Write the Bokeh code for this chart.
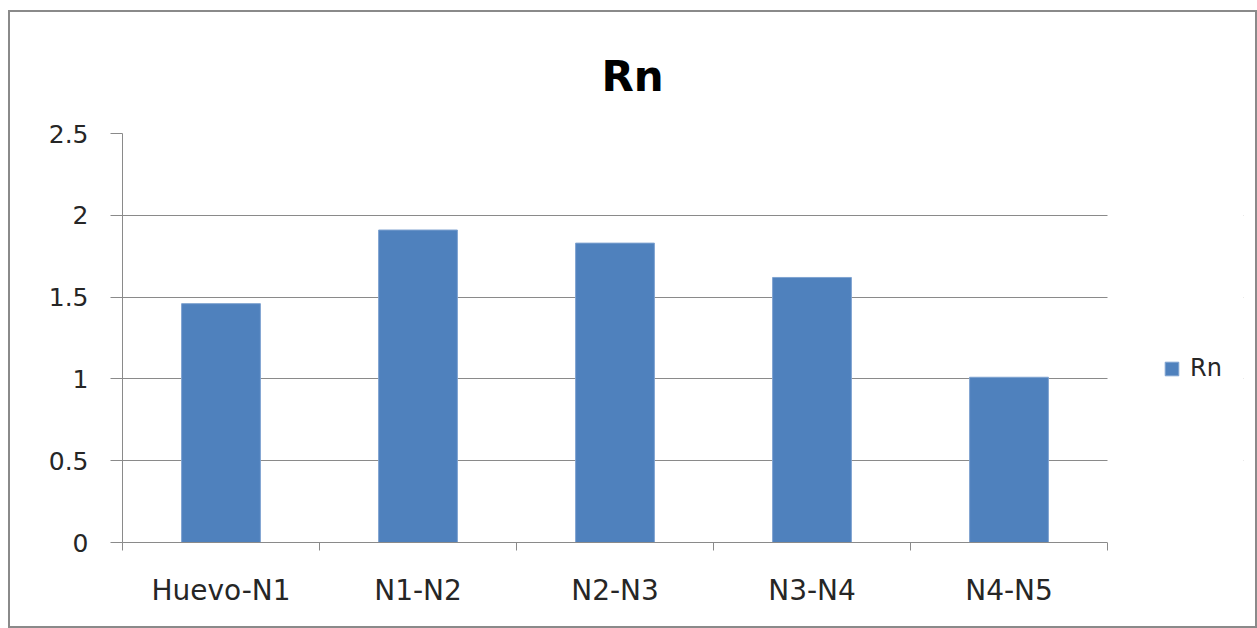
from bokeh.plotting import figure
from bokeh.models import (ColumnDataSource, FixedTicker, CustomJSTickFormatter,
                          Range1d, Legend, LegendItem, Title, BoxAnnotation)
from bokeh.embed import file_html
from bokeh.resources import INLINE

categories = ["Huevo-N1", "N1-N2", "N2-N3", "N3-N4", "N4-N5"]
rn_values = [1.46, 1.91, 1.83, 1.62, 1.01]
y_ticks = [0, 0.5, 1, 1.5, 2, 2.5]

FONT = "DejaVu Sans"
GRAY = "#8a8a8a"
TEXT = "#262626"
BAR = "#4F81BD"

n = len(categories)
x_pos = [i + 0.5 for i in range(n)]
src = ColumnDataSource(dict(x=x_pos, top=rn_values, cat=categories))

# plot area: the category part is 985px wide; the extra room on the right holds the legend
CAT_PX = 985
FRAME_W = 1121
x_end = n * FRAME_W / CAT_PX

p = figure(frame_width=FRAME_W, frame_height=409, output_backend="svg",
           toolbar_location=None,
           x_range=Range1d(0, x_end), y_range=Range1d(0, 2.5),
           min_border_left=112, min_border_right=12, min_border_top=121,
           min_border_bottom=84)
p.styles = {"border": f"2px solid {GRAY}", "margin-left": "8px", "margin-top": "10px"}
p.outline_line_color = None
p.background_fill_color = "white"
p.border_fill_color = "white"

r = p.vbar(x="x", top="top", width=0.4, source=src, fill_color=BAR,
           line_color="#7fa3d0", line_width=1)

# title
t = Title(text="Rn", align="left", vertical_align="top", text_font=FONT,
          text_font_size="42px", text_font_style="bold", text_color="black",
          standoff=62, offset=479)
p.add_layout(t, "above")

# y axis
p.yaxis.ticker = FixedTicker(ticks=y_ticks)
p.yaxis.formatter = CustomJSTickFormatter(code="return tick.toString();")
p.yaxis.axis_line_color = GRAY
p.yaxis.major_tick_line_color = GRAY
p.yaxis.major_tick_out = 12
p.yaxis.major_tick_in = 0
p.yaxis.minor_tick_line_color = None
p.yaxis.major_label_text_font = FONT
p.yaxis.major_label_text_font_size = "25px"
p.yaxis.major_label_text_color = TEXT
p.yaxis.major_label_standoff = 22

# x axis: ticks at category boundaries, labels at centers
p.xaxis.bounds = (0, n)
p.xaxis.ticker = FixedTicker(ticks=x_pos, minor_ticks=list(range(n + 1)))
p.xaxis.formatter = CustomJSTickFormatter(args=dict(labels=categories),
                                          code="return labels[Math.floor(tick)];")
p.xaxis.axis_line_color = GRAY
p.xaxis.major_tick_line_color = None
p.xaxis.major_tick_out = 0
p.xaxis.minor_tick_line_color = GRAY
p.xaxis.minor_tick_out = 8
p.xaxis.minor_tick_in = 0
p.xaxis.major_label_text_font = FONT
p.xaxis.major_label_text_font_size = "28px"
p.xaxis.major_label_text_color = TEXT
p.xaxis.major_label_standoff = 23

p.xgrid.grid_line_color = None
p.ygrid.grid_line_color = GRAY
p.ygrid.grid_line_width = 1

# blank the grid lines beyond the last category (legend area)
p.add_layout(BoxAnnotation(left=n, fill_color="white", fill_alpha=1.0,
                           line_color=None))

legend = Legend(items=[LegendItem(label="Rn", renderers=[r])],
                location=(1041, 160), padding=0, margin=0,
                border_line_color=None, background_fill_alpha=0,
                glyph_width=17, glyph_height=17, label_standoff=10,
                label_text_font=FONT, label_text_font_size="24px",
                label_text_color=TEXT)
p.add_layout(legend, "center")

open("out.html", "w").write(file_html(p, INLINE))
